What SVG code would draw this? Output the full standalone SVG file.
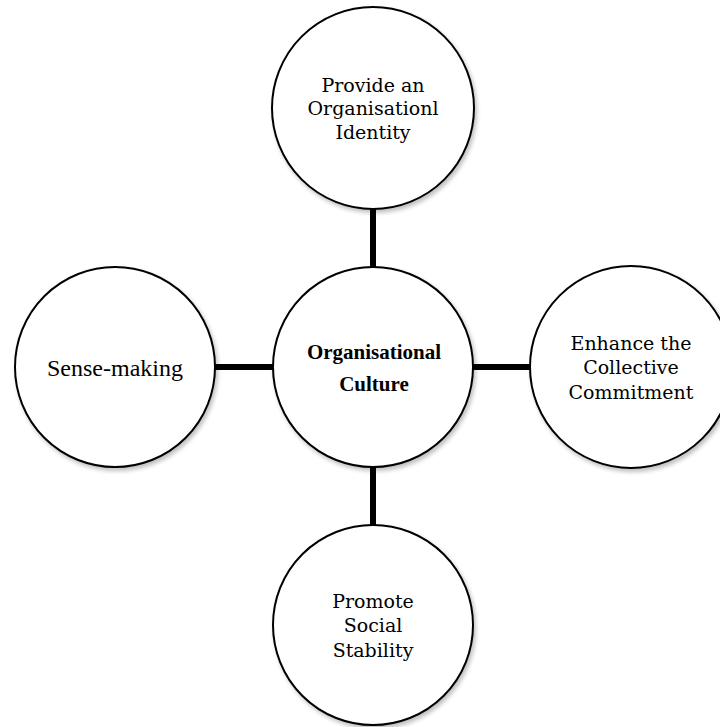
<svg xmlns="http://www.w3.org/2000/svg" width="720" height="727" viewBox="0 0 720 727">
<style>
.node circle{fill:#fff;stroke:#000;stroke-width:2}
.lbl{font-family:"Liberation Serif","Times New Roman",serif;font-size:24px;fill:#000;text-anchor:middle}
.ml{font-family:"DejaVu Serif","Liberation Serif",serif;font-size:19px;fill:#000;text-anchor:middle}
.ctr{font-family:"Liberation Serif","Times New Roman",serif;font-size:21px;font-weight:bold;fill:#000;text-anchor:middle}
.conn line{stroke:#000;stroke-width:6}
</style>
<defs>
<filter id="sh" x="-10%" y="-10%" width="125%" height="125%">
<feGaussianBlur in="SourceAlpha" stdDeviation="2"/>
<feOffset dx="2" dy="3" result="b"/>
<feComponentTransfer><feFuncA type="linear" slope="0.25"/></feComponentTransfer>
<feMerge><feMergeNode/><feMergeNode in="SourceGraphic"/></feMerge>
</filter>
</defs>
<rect width="720" height="727" fill="#fff"/>
<g id="connectors" class="conn">
<line x1="373" y1="209" x2="373" y2="268"/>
<line x1="215" y1="367" x2="274" y2="367"/>
<line x1="472" y1="367" x2="531" y2="367"/>
<line x1="373" y1="466" x2="373" y2="525"/>
</g>
<g id="node-top" class="node">
<circle cx="373" cy="108" r="101" filter="url(#sh)"/>
<text class="ml" x="373" y="92">Provide an</text>
<text class="ml" x="373" y="115">Organisationl</text>
<text class="ml" x="373" y="139">Identity</text>
</g>
<g id="node-center" class="node">
<circle cx="373" cy="367" r="100" filter="url(#sh)"/>
<text class="ctr" x="374" y="359">Organisational</text>
<text class="ctr" x="374" y="391">Culture</text>
</g>
<g id="node-left" class="node">
<circle cx="115" cy="367" r="100" filter="url(#sh)"/>
<text class="lbl" x="115" y="376">Sense-making</text>
</g>
<g id="node-right" class="node">
<circle cx="631" cy="367" r="101" filter="url(#sh)"/>
<text class="ml" x="631" y="350">Enhance the</text>
<text class="ml" x="631" y="374">Collective</text>
<text class="ml" x="631" y="399">Commitment</text>
</g>
<g id="node-bottom" class="node">
<circle cx="373" cy="625" r="100" filter="url(#sh)"/>
<text class="ml" x="373" y="608">Promote</text>
<text class="ml" x="373" y="632">Social</text>
<text class="ml" x="373" y="657">Stability</text>
</g>
</svg>
